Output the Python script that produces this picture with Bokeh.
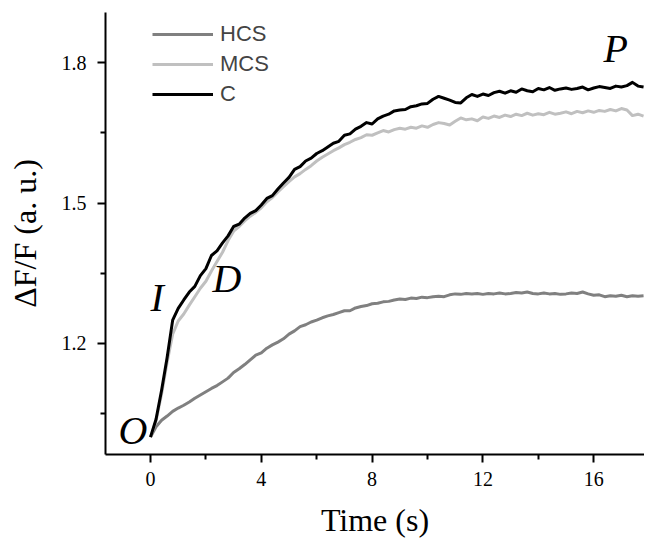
from bokeh.plotting import figure
from bokeh.models import Range1d, FixedTicker, Legend, LegendItem, Label
from bokeh.embed import file_html
from bokeh.resources import INLINE

# ---- data ----
time_s = [0.0, 0.2, 0.4, 0.6, 0.8, 1.0, 1.2, 1.4, 1.6, 1.8,
          2.0, 2.2, 2.4, 2.6, 2.8, 3.0, 3.2, 3.4, 3.6, 3.8,
          4.0, 4.2, 4.4, 4.6, 4.8, 5.0, 5.2, 5.4, 5.6, 5.8,
          6.0, 6.2, 6.4, 6.6, 6.8, 7.0, 7.2, 7.4, 7.6, 7.8,
          8.0, 8.2, 8.4, 8.6, 8.8, 9.0, 9.2, 9.4, 9.6, 9.8,
          10.0, 10.2, 10.4, 10.6, 10.8, 11.0, 11.2, 11.4, 11.6, 11.8,
          12.0, 12.2, 12.4, 12.6, 12.8, 13.0, 13.2, 13.4, 13.6, 13.8,
          14.0, 14.2, 14.4, 14.6, 14.8, 15.0, 15.2, 15.4, 15.6, 15.8,
          16.0, 16.2, 16.4, 16.6, 16.8, 17.0, 17.2, 17.4, 17.6, 17.8]

hcs = [1.000, 1.022, 1.036, 1.045, 1.055, 1.062, 1.068, 1.075, 1.083, 1.090,
       1.097, 1.104, 1.110, 1.118, 1.126, 1.138, 1.146, 1.155, 1.165, 1.175,
       1.180, 1.190, 1.197, 1.203, 1.210, 1.220, 1.227, 1.236, 1.240, 1.246,
       1.250, 1.255, 1.259, 1.262, 1.266, 1.270, 1.270, 1.276, 1.279, 1.281,
       1.285, 1.286, 1.289, 1.290, 1.293, 1.295, 1.294, 1.297, 1.296, 1.299,
       1.298, 1.300, 1.301, 1.300, 1.304, 1.306, 1.305, 1.307, 1.306, 1.307,
       1.305, 1.307, 1.306, 1.308, 1.306, 1.307, 1.309, 1.308, 1.310, 1.307,
       1.306, 1.308, 1.306, 1.307, 1.305, 1.306, 1.308, 1.307, 1.310, 1.306,
       1.303, 1.304, 1.300, 1.302, 1.301, 1.303, 1.300, 1.302, 1.301, 1.302]

mcs = [1.000, 1.035, 1.092, 1.160, 1.220, 1.248, 1.263, 1.282, 1.300, 1.318,
       1.333, 1.355, 1.375, 1.395, 1.420, 1.440, 1.450, 1.462, 1.472, 1.480,
       1.490, 1.503, 1.512, 1.524, 1.535, 1.546, 1.556, 1.563, 1.572, 1.580,
       1.590, 1.598, 1.605, 1.612, 1.618, 1.625, 1.630, 1.636, 1.640, 1.646,
       1.645, 1.650, 1.655, 1.652, 1.657, 1.660, 1.658, 1.662, 1.660, 1.665,
       1.662, 1.668, 1.672, 1.670, 1.667, 1.675, 1.682, 1.678, 1.680, 1.676,
       1.684, 1.681, 1.686, 1.683, 1.688, 1.685, 1.690, 1.687, 1.692, 1.688,
       1.691, 1.689, 1.694, 1.690, 1.692, 1.695, 1.691, 1.696, 1.693, 1.697,
       1.694, 1.698, 1.696, 1.700, 1.697, 1.702, 1.699, 1.687, 1.690, 1.686]

ctrl = [1.000, 1.038, 1.100, 1.170, 1.250, 1.275, 1.293, 1.310, 1.322, 1.345,
        1.360, 1.388, 1.398, 1.415, 1.430, 1.450, 1.455, 1.468, 1.478, 1.484,
        1.496, 1.510, 1.516, 1.530, 1.543, 1.555, 1.572, 1.578, 1.590, 1.596,
        1.606, 1.612, 1.620, 1.628, 1.632, 1.645, 1.648, 1.658, 1.664, 1.672,
        1.669, 1.680, 1.686, 1.690, 1.697, 1.699, 1.700, 1.706, 1.708, 1.712,
        1.713, 1.722, 1.728, 1.724, 1.720, 1.715, 1.714, 1.725, 1.732, 1.728,
        1.733, 1.730, 1.736, 1.739, 1.735, 1.740, 1.737, 1.744, 1.740, 1.738,
        1.745, 1.742, 1.747, 1.741, 1.744, 1.746, 1.743, 1.745, 1.748, 1.742,
        1.746, 1.749, 1.747, 1.745, 1.750, 1.748, 1.751, 1.758, 1.750, 1.748]

series_names = ["HCS", "MCS", "C"]
x_major = [0, 4, 8, 12, 16]
x_minor = [2, 6, 10, 14]
y_major = [1.2, 1.5, 1.8]
y_minor = [1.05, 1.35, 1.65]

SERIF = "Liberation Serif"
SANS = "Liberation Sans"

p = figure(frame_width=539, frame_height=442,
           x_range=Range1d(-1.625, 17.834), y_range=Range1d(0.9628, 1.9073),
           output_backend="svg", toolbar_location=None,
           min_border_left=105, min_border_top=12, min_border_right=0,
           min_border_bottom=0)
p.background_fill_color = "white"
p.border_fill_color = "white"
p.outline_line_color = None
p.xgrid.visible = False
p.ygrid.visible = False

r_h = p.line(time_s, hcs, line_color="#808080", line_width=3, line_join="round")
r_m = p.line(time_s, mcs, line_color="#c0c0c0", line_width=3, line_join="round")
r_c = p.line(time_s, ctrl, line_color="black", line_width=3, line_join="round")

for ax in (p.xaxis[0], p.yaxis[0]):
    ax.axis_line_width = 2
    ax.axis_line_color = "black"
    ax.major_tick_line_width = 2
    ax.minor_tick_line_width = 2
    ax.major_tick_in = 0
    ax.major_tick_out = 8
    ax.minor_tick_in = 0
    ax.minor_tick_out = 5
    ax.major_label_text_font = SERIF
    ax.major_label_text_font_size = "20px"
    ax.major_label_text_color = "black"
    ax.axis_label_text_font = SERIF
    ax.axis_label_text_font_size = "32px"
    ax.axis_label_text_font_style = "normal"
    ax.axis_label_text_color = "black"

p.xaxis.ticker = FixedTicker(ticks=x_major, minor_ticks=x_minor)
p.yaxis.ticker = FixedTicker(ticks=y_major, minor_ticks=y_minor)
p.xaxis.axis_label = "Time (s)"
p.yaxis.axis_label = "\u0394F/F (a. u.)"
p.xaxis.major_label_standoff = 9
p.xaxis.axis_label_standoff = 13
p.yaxis.major_label_standoff = 11
p.yaxis.axis_label_standoff = 16

legend = Legend(items=[LegendItem(label=series_names[0], renderers=[r_h]),
                       LegendItem(label=series_names[1], renderers=[r_m]),
                       LegendItem(label=series_names[2], renderers=[r_c])],
                location=(47, 345), glyph_width=61, glyph_height=30,
                label_height=30, spacing=0, padding=0, margin=0,
                label_standoff=7, border_line_alpha=0, background_fill_alpha=0,
                label_text_font=SANS, label_text_font_size="22px")
p.add_layout(legend)

for txt, lx, ly in [("O", -1.155, 1.014), ("I", 0.0, 1.298),
                    ("D", 2.24, 1.339), ("P", 16.35, 1.830)]:
    p.add_layout(Label(x=lx, y=ly, text=txt, text_font=SERIF,
                       text_font_style="italic", text_font_size="40px",
                       text_baseline="alphabetic", text_color="black"))

open("out.html", "w").write(file_html(p, INLINE))
